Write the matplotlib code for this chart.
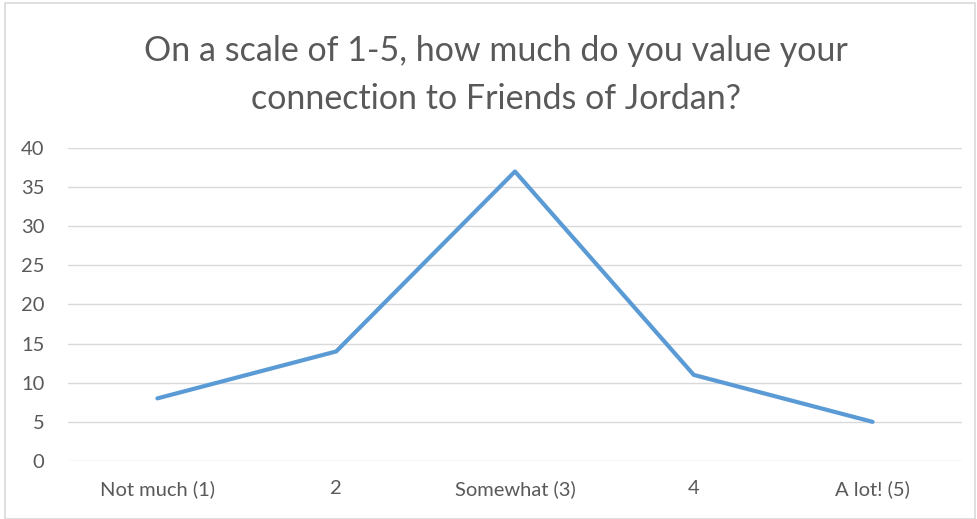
import matplotlib.pyplot as plt
from matplotlib.patches import Rectangle
import numpy as np

categories = ["Not much (1)", "2", "Somewhat (3)", "4", "A lot! (5)"]
values = [8, 14, 37, 11, 5]
yticks = [0, 5, 10, 15, 20, 25, 30, 35, 40]
title = "On a scale of 1-5, how much do you value your\nconnection to Friends of Jordan?"

plt.rcParams["font.family"] = ["Lato", "DejaVu Sans"]

fig = plt.figure(figsize=(9.77, 5.19), dpi=100)
ax = fig.add_axes([0.0696, 0.1118, 0.915, 0.603])

x = np.arange(len(categories))
ax.plot(x, values, color="#5B9BD5", linewidth=3, solid_capstyle="round", zorder=3)

ax.set_xlim(-0.5, len(categories) - 0.5)
ax.set_ylim(0, 40)
ax.set_yticks(yticks)
ax.set_xticks(x)
ax.set_xticklabels(categories)
ax.grid(axis="y", color="#D9D9D9", linewidth=1)
ax.set_axisbelow(True)
for s in ax.spines.values():
    s.set_visible(False)
ax.tick_params(length=0, colors="#595959", labelsize=14.5)
ax.tick_params(axis="y", pad=17)
ax.tick_params(axis="x", pad=14)

fig.text(0.508, 0.855, title, ha="center", va="center", fontsize=24.5,
         color="#595959", linespacing=1.6)

fig.patches.append(Rectangle((0.005, 0.0), 0.993, 0.994, transform=fig.transFigure,
                             fill=False, edgecolor="#D9D9D9", linewidth=1.2))

fig.savefig("out.png", dpi=100)
